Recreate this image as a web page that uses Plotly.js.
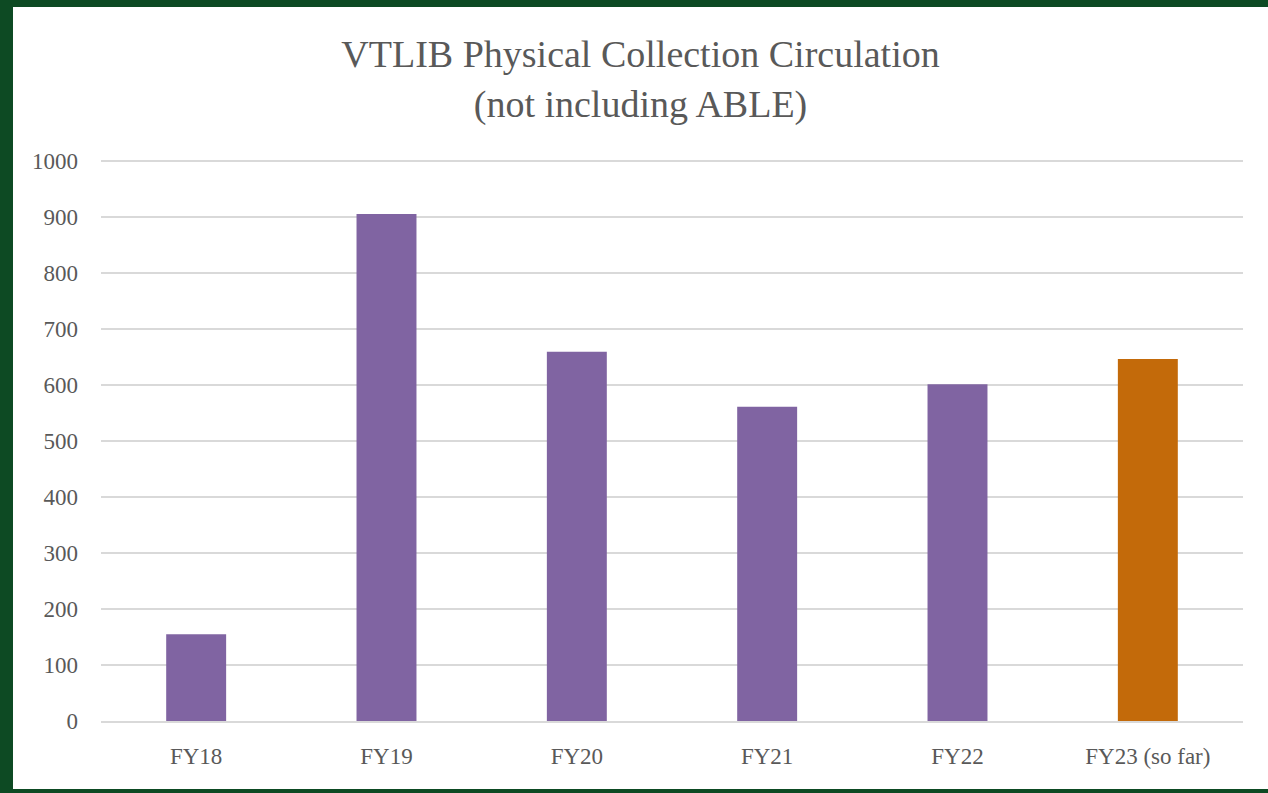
<!DOCTYPE html>
<html>
<head>
<meta charset="utf-8">
<script src="https://cdn.plot.ly/plotly-3.0.1.min.js"></script>
<style>
  html, body { margin: 0; padding: 0; background: #0d4a23; }
  body { width: 1268px; height: 793px; overflow: hidden; position: relative; }
  #chart { position: absolute; left: 13px; top: 7px; width: 1255px; height: 782px; background: #ffffff; }
</style>
</head>
<body>
<div id="chart"></div>
<script>
// Chart data
const years = ["FY18", "FY19", "FY20", "FY21", "FY22", "FY23 (so far)"];
const circulation = [155, 905, 659, 561, 601, 646];
const barColors = ["#8064a2", "#8064a2", "#8064a2", "#8064a2", "#8064a2", "#c36a0a"];
const yTicks = [0, 100, 200, 300, 400, 500, 600, 700, 800, 900, 1000];

const serif = "'Palatino Linotype', 'Book Antiqua', Palatino, 'Liberation Serif', serif";

const data = [
  {
    type: 'bar',
    x: years,
    y: circulation,
    marker: { color: barColors },
    hoverinfo: 'x+y'
  }
];

const layout = {
  width: 1255,
  height: 782,
  paper_bgcolor: '#ffffff',
  plot_bgcolor: '#ffffff',
  margin: { l: 88, r: 25, t: 151, b: 68 },
  bargap: 0.685,
  showlegend: false,
  title: {
    text: 'VTLIB Physical Collection Circulation<br>(not including ABLE)',
    font: { family: serif, size: 38, color: '#595959' },
    x: 0.5,
    xanchor: 'center',
    yref: 'container',
    y: 0.923,
    yanchor: 'top'
  },
  xaxis: {
    tickfont: { family: serif, size: 23, color: '#595959' },
    showline: true,
    linecolor: '#d9d9d9',
    linewidth: 1.5,
    ticks: '',
    ticklabelstandoff: 14
  },
  yaxis: {
    range: [0, 1005],
    tickvals: yTicks,
    tickfont: { family: serif, size: 23, color: '#595959' },
    gridcolor: '#d9d9d9',
    gridwidth: 1.5,
    zeroline: false,
    showline: false,
    ticks: '',
    ticklabelstandoff: 22
  }
};

Plotly.newPlot('chart', data, layout, { displayModeBar: false });
</script>
</body>
</html>
